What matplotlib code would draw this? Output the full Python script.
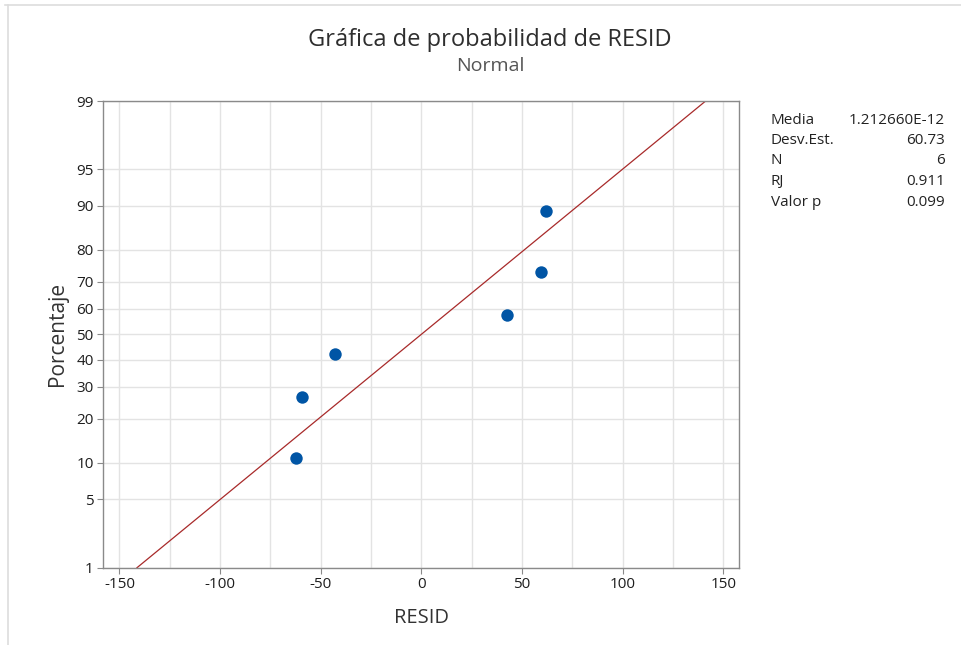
import matplotlib
matplotlib.use("Agg")
import matplotlib.pyplot as plt
from matplotlib.lines import Line2D
import numpy as np
from statistics import NormalDist

plt.rcParams['font.family'] = ['Open Sans', 'DejaVu Sans']
plt.rcParams['axes.unicode_minus'] = False

# residuos ordenados y su porcentaje (rangos medianos)
resid = [-62.1, -59.5, -42.7, 42.8, 59.4, 62.1]
porcentaje = [10.94, 26.56, 42.19, 57.81, 73.44, 89.06]

# ajuste normal
media = 1.212660e-12
desv = 60.73

y_ticks = [1, 5, 10, 20, 30, 40, 50, 60, 70, 80, 90, 95, 99]
x_ticks = [-150, -100, -50, 0, 50, 100, 150]
x_grid = np.arange(-150, 151, 25)

stats_lbl = ["Media", "Desv.Est.", "N", "RJ", "Valor p"]
stats_val = ["1.212660E-12", "60.73", "6", "0.911", "0.099"]

nd = NormalDist()
_ppf = np.vectorize(lambda p: nd.inv_cdf(min(max(p, 1e-6), 100 - 1e-6) / 100.0),
                    otypes=[float])
_cdf = np.vectorize(lambda z: 100.0 * nd.cdf(z), otypes=[float])


def fwd(p):
    return _ppf(np.asarray(p, dtype=float))


def inv(z):
    return _cdf(np.asarray(z, dtype=float))


fig = plt.figure(figsize=(9.61, 6.45), dpi=100)
ax = fig.add_axes([0.1075, 0.1198, 0.6618, 0.7236])
ax.set_yscale('function', functions=(fwd, inv))

grid_c = '#e3e3e3'
for gx in x_grid:
    ax.axvline(gx, color=grid_c, lw=1.0, zorder=0)
for gy in y_ticks:
    ax.axhline(gy, color=grid_c, lw=1.0, zorder=0)

# linea de ajuste entre 1% y 99%
p_line = np.array([y_ticks[0], y_ticks[-1]])
x_line = media + desv * np.array([nd.inv_cdf(p / 100) for p in p_line])
ax.plot(x_line, p_line, color='#a82a2a', lw=0.9, zorder=2)

ax.scatter(resid, porcentaje, s=80, color='#0055a5', zorder=3, linewidths=0)

ax.set_xlim(-158, 158)
ax.set_ylim(1, 99)
ax.set_xticks(x_ticks)
ax.set_yticks(y_ticks)
ax.set_yticklabels([str(t) for t in y_ticks])
ax.tick_params(axis='both', length=4, width=0.8, color='#8a8a8a',
               labelsize=11, labelcolor='#1e1e1e', pad=3)
ax.minorticks_off()
for s in ax.spines.values():
    s.set_color('#8a8a8a')
    s.set_linewidth(1.0)

ax.set_xlabel('RESID', fontsize=14.5, color='#333333', labelpad=11)
ax.set_ylabel('Porcentaje', fontsize=15, color='#333333', labelpad=6)

fig.text(490 / 961, 1 - 40 / 645, 'Gráfica de probabilidad de RESID',
         ha='center', va='center', fontsize=17, color='#2e2e2e')
fig.text(490 / 961, 1 - 66 / 645, 'Normal', ha='center', va='center',
         fontsize=14, color='#555555')

# tabla de estadisticos
for i, (lbl, val) in enumerate(zip(stats_lbl, stats_val)):
    yy = 1 - (120 + i * 20.5) / 645
    fig.text(771 / 961, yy, lbl, ha='left', va='center', fontsize=11, color='#222222')
    fig.text(945 / 961, yy, val, ha='right', va='center', fontsize=11, color='#222222')

# marco del grafico
fig.add_artist(Line2D([5 / 961, 1], [1 - 5 / 645, 1 - 5 / 645], color='#dddddd', lw=1.2))
fig.add_artist(Line2D([8 / 961, 8 / 961], [0, 1 - 5 / 645], color='#dddddd', lw=1.2))

fig.savefig('out.png', dpi=100)
